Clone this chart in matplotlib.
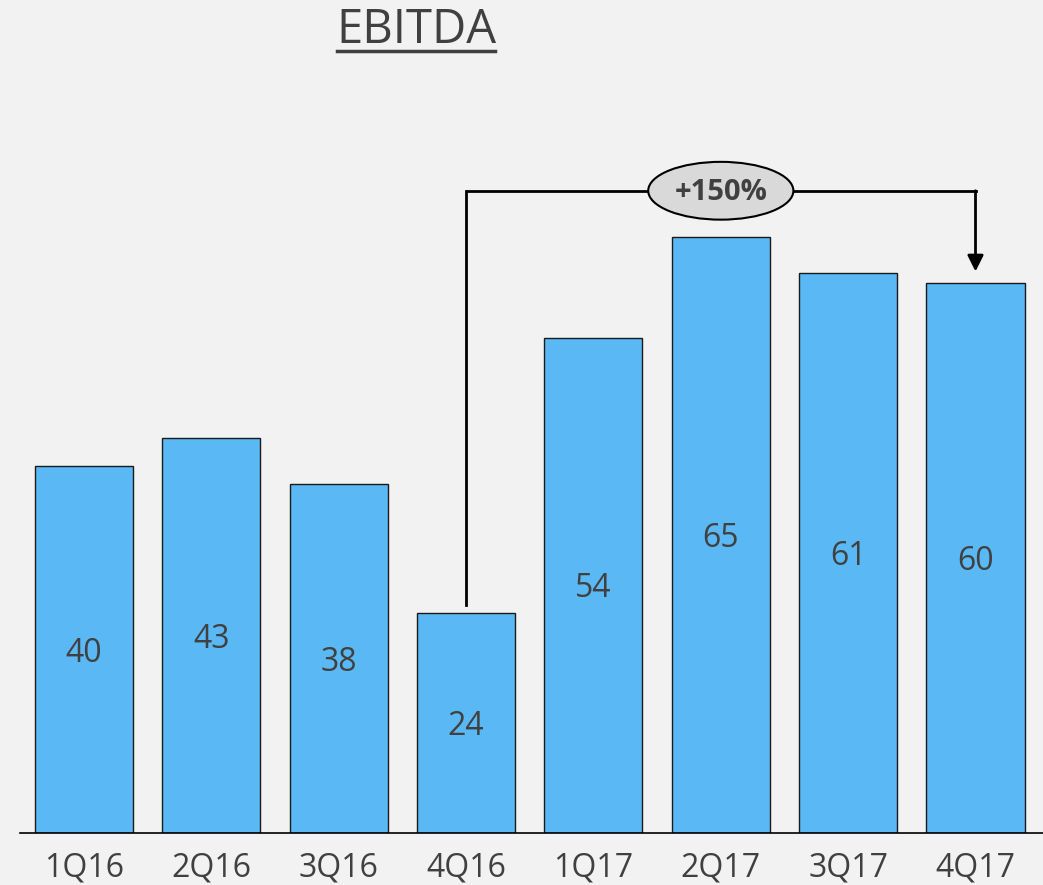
import matplotlib.pyplot as plt
from matplotlib.patches import Ellipse

plt.rcParams['font.family'] = ['Open Sans', 'DejaVu Sans']

quarters = ['1Q16', '2Q16', '3Q16', '4Q16', '1Q17', '2Q17', '3Q17', '4Q17']
ebitda = [40, 43, 38, 24, 54, 65, 61, 60]
growth_label = '+150%'

BG = '#F2F2F2'
BAR = '#5AB8F5'
TXT = '#404040'

fig = plt.figure(figsize=(10.43, 8.85), dpi=100)
fig.patch.set_facecolor(BG)
ax = fig.add_axes([20 / 1043, 52 / 885, 1023 / 1043, 734 / 885])
ax.set_facecolor(BG)

x = list(range(len(quarters)))
bars = ax.bar(x, ebitda, width=0.77, color=BAR, edgecolor='#1a1a1a', linewidth=1.0, zorder=2)
for xi, v in zip(x, ebitda):
    ax.text(xi, v / 2 - 0.4, str(v), ha='center', va='center', fontsize=23, color=TXT, zorder=3)

ax.set_xlim(-0.503, 7.53)
ax.set_ylim(0, 80)
ax.set_xticks(x)
ax.set_xticklabels(quarters, fontsize=23, color=TXT)
ax.tick_params(axis='x', length=0, pad=13)
ax.set_yticks([])
for s in ['top', 'right', 'left']:
    ax.spines[s].set_visible(False)
ax.spines['bottom'].set_linewidth(1.2)

# bracket 4Q16 -> 4Q17
i0, i1 = quarters.index('4Q16'), quarters.index('4Q17')
ytop = 70.0
ax.plot([i0, i0, i1], [ebitda[i0] + 0.9, ytop, ytop], color='black', lw=2, zorder=4,
        solid_joinstyle='miter')
ax.annotate('', xy=(i1, ebitda[i1] + 1.2), xytext=(i1, ytop),
            arrowprops=dict(arrowstyle='-|>', color='black', lw=2, mutation_scale=24,
                            shrinkA=0, shrinkB=0), zorder=4)
ax.add_patch(Ellipse(((i0 + i1) / 2, ytop), 1.14, 6.3, facecolor='#D9D9D9',
                     edgecolor='black', lw=1.5, zorder=5))
ax.text((i0 + i1) / 2, ytop - 0.2, growth_label, ha='center', va='center', fontsize=21,
        fontweight='bold', color=TXT, zorder=6)

# title with underline
fig.text(416 / 1043, 1 - 30 / 885, 'EBITDA', ha='center', va='center', fontsize=34, color=TXT)
fig.add_artist(plt.Line2D([337 / 1043, 495 / 1043], [1 - 51 / 885, 1 - 51 / 885],
                          color=TXT, lw=2.5))

fig.savefig('out.png', dpi=100, facecolor=BG)
